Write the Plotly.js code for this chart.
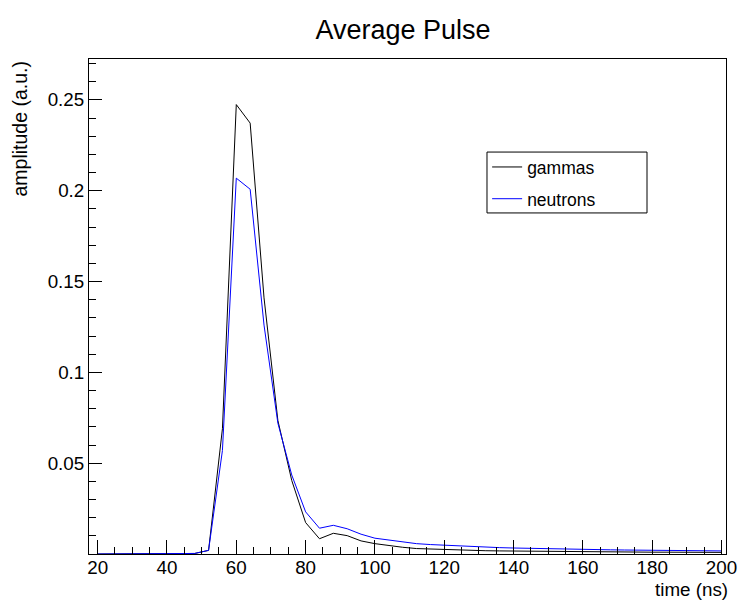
<!DOCTYPE html>
<html>
<head>
<meta charset="utf-8">
<script src="https://cdn.plot.ly/plotly-3.0.1.min.js"></script>
<style>
html,body{margin:0;padding:0;background:#fff;}
#chart{width:739px;height:604px;}
</style>
</head>
<body>
<div id="chart"></div>
<script>
// time (ns) of each sample
const timeNs = [20,24,28,32,36,40,44,48,52,56,60,64,68,72,76,80,84,88,92,96,100,104,108,112,116,120,124,128,132,136,140,144,148,152,156,160,164,168,172,176,180,184,188,192,196,200];
// average pulse amplitudes (a.u.)
const gammas = [0,0,0,0,0,0,0,0.0003,0.002,0.069,0.2474,0.2372,0.141,0.0735,0.0405,0.0173,0.0084,0.0114,0.0101,0.0072,0.0057,0.0046,0.0037,0.003,0.0027,0.0024,0.0022,0.002,0.0018,0.0017,0.0016,0.0015,0.0014,0.0013,0.0013,0.0012,0.0012,0.0011,0.0011,0.001,0.001,0.001,0.0009,0.0009,0.0009,0.0009];
const neutrons = [0,0,0,0,0,0,0,0.0003,0.002,0.057,0.2069,0.2008,0.126,0.072,0.0435,0.0232,0.0142,0.0158,0.0139,0.0109,0.0087,0.0077,0.0065,0.0057,0.0052,0.0048,0.0044,0.0041,0.0038,0.0035,0.0033,0.0031,0.003,0.0028,0.0027,0.0026,0.0024,0.0023,0.0022,0.0021,0.002,0.0019,0.0019,0.0018,0.0018,0.0017];
const yTickVals = [0.05,0.1,0.15,0.2,0.25];
const yTickText = ['0.05','0.1','0.15','0.2','0.25'];

const FONT = 'Liberation Sans, Arial, Helvetica, sans-serif';

const traces = [
  {x: timeNs, y: gammas, name: 'gammas', legendgroup: 'g', type: 'scatter', mode: 'lines',
   line: {color: '#000000', width: 1}},
  {x: timeNs, y: neutrons, name: 'neutrons', legendgroup: 'n', type: 'scatter', mode: 'lines',
   line: {color: '#0000ff', width: 1}}
];

const layout = {
  width: 739, height: 604,
  paper_bgcolor: '#ffffff', plot_bgcolor: '#ffffff',
  margin: {l: 89, r: 13, t: 59, b: 50},
  font: {family: FONT, color: '#000000', size: 18},
  title: {text: 'Average Pulse', font: {family: FONT, size: 27, color: '#000'},
          x: 403/739, xanchor: 'center', xref: 'container', y: 1 - 30/604, yanchor: 'middle', yref: 'container'},
  showlegend: true,
  legend: {x: 0.625, y: 0.818, xanchor: 'left', yanchor: 'top',
           bgcolor: 'rgba(0,0,0,0)', borderwidth: 0, tracegroupgap: 6,
           font: {family: FONT, size: 17.5, color: '#000'}, itemwidth: 30},
  shapes: [
    {type: 'rect', xref: 'paper', yref: 'paper', x0: 0.6248, x1: 0.876, y0: 0.689, y1: 0.812,
     line: {color: '#000', width: 1}, fillcolor: '#ffffff', layer: 'above'}
  ],
  xaxis: {
    range: [17.5, 201.3], showgrid: false, zeroline: false,
    showline: true, linecolor: '#000', linewidth: 1, mirror: true,
    ticks: 'inside', ticklen: 14, tickcolor: '#000', tickwidth: 1,
    tick0: 0, dtick: 20, ticklabelstandoff: -4,
    minor: {dtick: 5, tick0: 0, ticks: 'inside', ticklen: 7, tickcolor: '#000', showgrid: false},
    tickfont: {family: FONT, size: 18.8, color: '#000'}
  },
  yaxis: {
    range: [0, 0.2725], showgrid: false, zeroline: false,
    showline: true, linecolor: '#000', linewidth: 1, mirror: true,
    ticks: 'inside', ticklen: 13, tickcolor: '#000', tickwidth: 1,
    tickmode: 'array', tickvals: yTickVals, ticktext: yTickText,
    minor: {dtick: 0.01, tick0: 0, ticks: 'inside', ticklen: 7, tickcolor: '#000', showgrid: false},
    tickfont: {family: FONT, size: 18.8, color: '#000'}
  },
  annotations: [
    {text: 'time (ns)', xref: 'paper', yref: 'paper', x: 1.006, y: -0.072,
     xanchor: 'right', yanchor: 'middle', showarrow: false,
     font: {family: FONT, size: 18.8, color: '#000'}},
    {text: 'amplitude (a.u.)', xref: 'paper', yref: 'paper', x: -69/637, y: 0.998,
     xanchor: 'center', yanchor: 'top', textangle: -90, showarrow: false,
     font: {family: FONT, size: 19.5, color: '#000'}}
  ]
};

Plotly.newPlot('chart', traces, layout, {displayModeBar: false, staticPlot: true});
</script>
</body>
</html>
